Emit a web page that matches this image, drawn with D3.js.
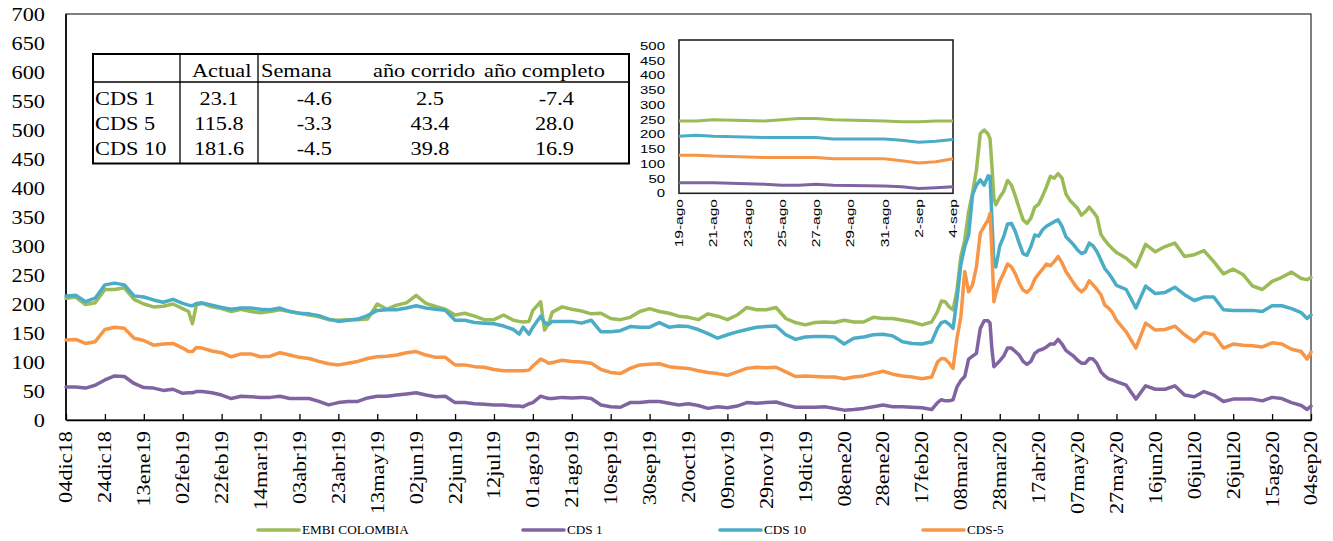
<!DOCTYPE html>
<html><head><meta charset="utf-8">
<script src="https://cdn.jsdelivr.net/npm/d3@7"></script>
<style>body{margin:0;background:#fff}svg{display:block}</style>
</head><body>
<svg id="c" width="1333" height="541"></svg>
<script>
// ---------- DATA ----------
// day offsets from 04dic18 (categories)
const dayOffsets = [0,5,10,15,20,25,30,35,40,45,50,55,60,63,65,67,
70,75,80,85,90,95,100,105,110,115,120,125,130,135,140,145,150,155,160,165,170,175,180,185,190,195,200,205,210,215,220,225,230,
233,235,238,240,244,246,248,
250,255,260,265,270,275,280,285,290,295,300,305,310,315,320,325,330,335,340,345,350,355,360,365,370,375,380,385,390,395,400,405,410,415,420,425,430,435,440,
445,448,450,452,454,456,458,460,462,464,466,468,470,472,474,475,476,477,
478,480,482,484,486,488,490,492,494,496,498,500,502,504,506,508,510,512,514,516,518,520,522,524,526,528,530,532,534,536,538,540,
545,550,555,560,565,570,575,580,585,590,595,600,605,610,615,620,625,630,635,638,640];

const embi = [210,212,199,202,225,225,228,208,200,195,196,200,192,187,166,198,
201,195,192,187,191,187,185,187,190,187,184,181,178,173,172,173,173,174,200,191,198,202,215,201,196,191,181,184,179,173,173,181,172,
170,169,170,189,204,155,166,
186,195,191,188,183,184,175,173,177,187,192,187,184,179,177,173,183,179,173,181,194,190,190,194,175,168,164,168,169,168,172,169,169,177,175,175,172,169,164,
169,187,205,204,195,190,224,282,310,359,391,431,494,500,493,485,437,382,
371,384,394,413,405,386,365,345,339,348,367,372,386,402,420,417,425,417,390,379,372,365,353,359,367,359,350,320,310,302,295,289,
279,264,303,290,299,305,282,285,292,273,252,260,251,231,225,239,246,255,244,242,246];

const cds1 = [57,57,55,60,69,76,75,63,56,55,51,53,46,47,47,49,
49,47,43,37,41,40,39,39,41,37,37,37,32,26,30,32,32,38,41,41,43,45,47,43,40,41,30,30,28,27,26,26,24,
24,23,28,30,41,39,37,
37,39,38,39,37,26,23,22,30,30,32,32,29,26,28,25,20,23,21,24,30,29,30,31,26,22,22,22,23,20,17,18,20,23,26,23,23,22,21,
18,30,35,33,33,35,57,68,75,105,110,115,158,171,171,167,121,92,
95,102,110,124,124,118,112,101,96,101,115,120,122,126,131,131,139,131,120,115,110,103,98,98,106,105,97,83,76,71,69,66,
60,36,59,53,53,59,43,40,49,43,32,36,36,36,33,39,37,30,25,18,24];

const cds10 = [214,215,204,210,233,236,233,214,212,207,203,208,201,198,197,201,
202,198,194,191,193,193,191,190,193,187,184,183,180,174,170,172,174,180,189,190,190,193,197,193,191,189,172,172,168,167,166,162,156,
148,160,148,160,179,168,165,
170,170,170,167,172,152,152,154,161,160,160,168,160,162,161,156,149,141,147,152,156,160,161,162,147,139,143,144,144,143,131,141,143,147,148,145,135,132,131,
135,158,168,170,165,158,208,268,299,319,388,405,414,405,421,420,345,267,
264,300,316,338,339,325,305,287,284,299,319,317,328,334,338,342,345,334,316,309,302,293,287,290,305,300,290,276,261,253,243,232,
225,193,231,218,220,229,216,206,212,212,190,189,189,189,187,197,197,192,185,175,181];

const cds5 = [138,139,132,135,156,160,158,141,137,129,131,132,124,118,118,125,
124,119,116,109,114,114,109,110,116,112,108,106,101,97,95,98,101,106,109,110,112,116,118,112,108,108,95,95,92,91,87,85,85,
85,85,86,93,105,102,98,
99,103,101,100,98,87,82,80,89,95,96,97,92,90,89,85,82,80,77,83,89,91,90,91,83,75,76,75,74,74,71,74,76,80,84,79,76,74,71,
74,100,106,105,98,89,141,178,256,221,233,264,322,334,345,356,287,204,
218,239,253,269,264,252,236,224,220,227,243,252,260,269,266,273,282,271,256,246,236,227,221,227,240,233,225,216,198,193,185,172,
152,124,167,155,156,162,147,135,151,147,124,131,129,128,126,133,131,122,118,105,117];

const seriesNames = ["EMBI COLOMBIA","CDS 1","CDS 10","CDS-5"];
const xTickLabels = ["04dic18","24dic18","13ene19","02feb19","22feb19","14mar19","03abr19","23abr19","13may19","02jun19","22jun19","12jul19","01ago19","21ago19","10sep19","30sep19","20oct19","09nov19","29nov19","19dic19","08ene20","28ene20","17feb20","08mar20","28mar20","17abr20","07may20","27may20","16jun20","06jul20","26jul20","15ago20","04sep20"];
const yTicks = [0,50,100,150,200,250,300,350,400,450,500,550,600,650,700];

// inset (19-ago .. 4-sep, calendar day offsets)
const insetDays = [0,1,2,5,6,7,8,9,12,13,14,15,16];
const insetEmbi = [245,245,249,245,249,253,253,249,245,242,242,245,245];
const insetCds1 = [36,36,36,31,27,27,31,27,25,22,16,19,22];
const insetCds10 = [193,197,193,189,189,189,189,184,184,180,173,176,182];
const insetCds5 = [129,129,126,121,121,121,121,117,117,110,103,107,117];
const insetTickLabels = ["19-ago","21-ago","23-ago","25-ago","27-ago","29-ago","31-ago","2-sep","4-sep"];
const insetYTicks = [0,50,100,150,200,250,300,350,400,450,500];

// table
const tableHeader = ["Actual","Semana","año corrido","año completo"];
const tableRowNames = ["CDS 1","CDS 5","CDS 10"];
const colActual = ["23.1","115.8","181.6"];
const colSemana = ["-4.6","-3.3","-4.5"];
const colCorrido = ["2.5","43.4","39.8"];
const colCompleto = ["-7.4","28.0","16.9"];

// ---------- DRAW ----------
const SERIF = "'Liberation Serif','Times New Roman',serif";
const SANS = "'Liberation Sans',Arial,sans-serif";
const colors = ["#9BBB59","#8064A2","#4BACC6","#F79646"];
const mainValues = [embi,cds1,cds10,cds5];
const insetValues = [insetEmbi,insetCds1,insetCds10,insetCds5];
mainValues.forEach((v,i)=>{ if(v.length!==dayOffsets.length) console.error("len mismatch",i,v.length,dayOffsets.length); });

const svg = d3.select("#c");

function stext(parent, x, y, str, o = {}) {
  const sx = o.sx ?? 1.24, size = o.size ?? 18, fam = o.family ?? SERIF;
  const t = parent.append("text")
    .attr("transform", `translate(${x},${y})${o.rotate ? ` rotate(${o.rotate})` : ""} scale(${sx},1)`)
    .attr("text-anchor", o.anchor ?? "start")
    .style("font-family", fam).style("font-size", size + "px")
    .attr("fill", "#000").text(str);
  if (o.dy) t.attr("dy", o.dy);
  return t;
}

const x = d3.scaleLinear().domain([0,640]).range([66,1311]);
const y = d3.scaleLinear().domain([0,700]).range([420,14]);

// frame
svg.append("rect").attr("x",66).attr("y",14).attr("width",1245).attr("height",406)
  .attr("fill","none").attr("stroke","#000").attr("stroke-width",1);
svg.append("line").attr("x1",66).attr("x2",66).attr("y1",14).attr("y2",420)
  .attr("stroke","#000").attr("stroke-width",1.6);

// x axis
const gx = svg.append("g").attr("transform","translate(0,420)")
  .call(d3.axisBottom(x).tickValues(d3.range(0,641,20)).tickSize(-6).tickSizeOuter(0).tickFormat((d,i)=>xTickLabels[i]));
gx.select(".domain").attr("stroke","#000").attr("stroke-width",1.6);
gx.selectAll(".tick line").attr("stroke","#000").attr("stroke-width",1.3);
gx.selectAll(".tick text").attr("x",0).attr("y",0).attr("dy","0.33em")
  .attr("text-anchor","end").attr("fill","#000")
  .attr("transform","translate(0,11) rotate(-90) scale(1.24,1)")
  .style("font-family",SERIF).style("font-size","18px");

// y axis
const gy = svg.append("g").attr("transform","translate(66,0)")
  .call(d3.axisLeft(y).tickValues(yTicks).tickSize(0).tickPadding(0));
gy.select(".domain").remove();
gy.selectAll(".tick text").attr("x",0).attr("dy","0.34em").attr("text-anchor","end").attr("fill","#000")
  .attr("transform","translate(-21,0) scale(1.24,1)")
  .style("font-family",SERIF).style("font-size","18px");

// main lines
const line = d3.line().x(d=>x(d[0])).y(d=>y(d[1]));
mainValues.forEach((vals,i)=>{
  svg.append("path").datum(dayOffsets.map((d,j)=>[d,vals[j]]))
    .attr("d",line).attr("fill","none").attr("stroke",colors[i])
    .attr("stroke-width",3.5).attr("stroke-linejoin","round").attr("stroke-linecap","round");
});

// table
const tb = svg.append("g");
tb.append("rect").attr("x",93).attr("y",54).attr("width",536).attr("height",109.5)
  .attr("fill","#fff").attr("stroke","#000").attr("stroke-width",2);
tb.append("line").attr("x1",93).attr("x2",629).attr("y1",82).attr("y2",82).attr("stroke","#000").attr("stroke-width",1.3);
[180,258].forEach(vx=>tb.append("line").attr("x1",vx).attr("x2",vx).attr("y1",54).attr("y2",163.5).attr("stroke","#000").attr("stroke-width",1.3));
const headX = [192,261,373,484];
tableHeader.forEach((h,i)=>stext(tb,headX[i],77,h));
const rowY = [105,130,155];
tableRowNames.forEach((r,i)=>{
  stext(tb,95,rowY[i],r);
  stext(tb,219,rowY[i],colActual[i],{anchor:"middle"});
  stext(tb,332,rowY[i],colSemana[i],{anchor:"end"});
  stext(tb,430,rowY[i],colCorrido[i],{anchor:"middle"});
  stext(tb,574,rowY[i],colCompleto[i],{anchor:"end"});
});

// inset
const ig = svg.append("g");
const ix = d3.scaleLinear().domain([0,16]).range([679,953]);
const iy = d3.scaleLinear().domain([0,500]).range([193.3,45.7]);
ig.append("rect").attr("x",679).attr("y",40).attr("width",274).attr("height",153.3)
  .attr("fill","#fff").attr("stroke","#222").attr("stroke-width",1.6);
insetYTicks.forEach(v=>stext(ig,665,iy(v),String(v),{anchor:"end",size:11.5,sx:1.3,family:SANS,dy:"0.36em"}));
insetTickLabels.forEach((l,i)=>stext(ig,ix(i*2),199,l,{anchor:"end",rotate:-90,size:11.5,sx:1.35,family:SANS,dy:"0.36em"}));
const iline = d3.line().x(d=>ix(d[0])).y(d=>iy(d[1]));
insetValues.forEach((vals,i)=>{
  ig.append("path").datum(insetDays.map((d,j)=>[d,vals[j]]))
    .attr("d",iline).attr("fill","none").attr("stroke",colors[i])
    .attr("stroke-width",3).attr("stroke-linejoin","round");
});

// legend
const lg = svg.append("g");
const legX = [258,523,720,923];
seriesNames.forEach((n,i)=>{
  lg.append("line").attr("x1",legX[i]).attr("x2",legX[i]+41).attr("y1",530).attr("y2",530)
    .attr("stroke",colors[i]).attr("stroke-width",3.6).attr("stroke-linecap","round");
  stext(lg,legX[i]+44,530,n,{size:11.5,sx:1.15,dy:"0.35em"});
});
</script>
</body></html>
